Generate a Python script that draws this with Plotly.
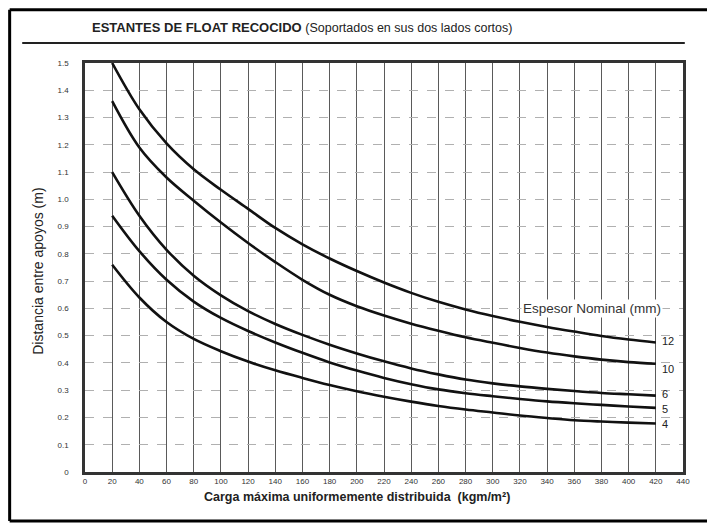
import plotly.graph_objects as go

# Carga (kg/m2) at which each curve is read
carga = [20, 40, 60, 80, 100, 120, 140, 160, 180, 200, 220,
         240, 260, 280, 300, 320, 340, 360, 380, 400, 420]

# Distancia entre apoyos (m) per espesor nominal (mm)
esp_12 = [1.50, 1.33, 1.205, 1.11, 1.035, 0.965, 0.895, 0.835, 0.783, 0.737, 0.695,
          0.657, 0.624, 0.596, 0.572, 0.551, 0.532, 0.515, 0.499, 0.486, 0.475]
esp_10 = [1.36, 1.19, 1.08, 0.995, 0.915, 0.84, 0.77, 0.705, 0.65, 0.608, 0.574,
          0.544, 0.518, 0.494, 0.474, 0.455, 0.438, 0.424, 0.412, 0.403, 0.397]
esp_6 = [1.10, 0.94, 0.815, 0.72, 0.648, 0.59, 0.543, 0.503, 0.467, 0.435, 0.406,
         0.38, 0.358, 0.339, 0.325, 0.314, 0.305, 0.297, 0.29, 0.285, 0.28]
esp_5 = [0.94, 0.81, 0.705, 0.625, 0.565, 0.517, 0.475, 0.437, 0.402, 0.372, 0.345,
         0.322, 0.303, 0.289, 0.278, 0.268, 0.259, 0.252, 0.246, 0.24, 0.235]
esp_4 = [0.76, 0.64, 0.55, 0.488, 0.443, 0.405, 0.373, 0.345, 0.319, 0.296, 0.276,
         0.258, 0.242, 0.229, 0.218, 0.207, 0.198, 0.19, 0.185, 0.181, 0.178]

series = [('12', esp_12, 1), ('10', esp_10, -5), ('6', esp_6, 2),
          ('5', esp_5, -1), ('4', esp_4, -1)]

x_ticks = list(range(0, 441, 20))
y_ticks = [i / 10 for i in range(0, 16)]
y_labels = ['0'] + [f'{v:.1f}' for v in y_ticks[1:]]

FONT = 'Liberation Sans, Arial'
NARROW = 'Liberation Sans Narrow, Liberation Sans, Arial'

fig = go.Figure()
for name, vals, _ in series:
    fig.add_trace(go.Scatter(
        x=carga, y=vals, mode='lines', name=name,
        line=dict(color='#111111', width=2.6, shape='spline', smoothing=1.0),
        hoverinfo='skip', showlegend=False,
    ))

# curve labels at the right end
for name, vals, ys in series:
    fig.add_annotation(x=carga[-1], y=vals[-1], text=name, showarrow=False,
                       xanchor='left', yanchor='middle', xshift=4, yshift=ys,
                       font=dict(size=11, color='#222', family=FONT))

fig.add_annotation(x=373, y=0.6, text='Espesor Nominal (mm)', showarrow=False,
                   yanchor='middle', bgcolor='white',
                   font=dict(size=13.5, color='#333', family=FONT))

# title, rule, outer frame and axis titles (paper coords relative to plot area)
fig.add_annotation(xref='paper', yref='paper', x=0.008, y=1.086,
                   xanchor='left', yanchor='middle',
                   text='<b>ESTANTES DE FLOAT RECOCIDO</b> '
                        '<span style="font-family:Liberation Sans;font-size:12.5px">'
                        '(Soportados en sus dos lados cortos)</span>',
                   showarrow=False, font=dict(size=13, color='#222', family=NARROW))
fig.add_shape(type='line', xref='paper', yref='paper', x0=-0.105, x1=1.003,
              y0=1.049, y1=1.049, line=dict(color='#222', width=2))

# outer frame drawn as four lines
fl, fr, fb, ft = -0.126, 1.050, -0.12, 1.13
for x0, y0, x1, y1 in [(fl, fb, fl, ft), (fl, ft, fr, ft), (fr, ft, fr, fb), (fr, fb, fl, fb)]:
    fig.add_shape(type='line', xref='paper', yref='paper', x0=x0, y0=y0, x1=x1, y1=y1,
                  line=dict(color='black', width=3))

fig.add_annotation(xref='paper', yref='paper', x=-0.08, y=0.49, textangle=-90,
                   xanchor='center', yanchor='middle',
                   text='Distancia entre apoyos (m)', showarrow=False,
                   font=dict(size=14, color='#222', family=FONT))
fig.add_annotation(xref='paper', yref='paper', x=0.455, y=-0.061,
                   xanchor='center', yanchor='middle',
                   text='<b>Carga máxima uniformemente distribuida  (kgm/m²)</b>',
                   showarrow=False, font=dict(size=12.5, color='#222', family=FONT))

fig.update_layout(
    width=707, height=515,
    plot_bgcolor='white', paper_bgcolor='white',
    margin=dict(l=77, r=32, t=55, b=51),
    font=dict(family=FONT, color='#333'),
    xaxis=dict(range=[0, 440], tickvals=x_ticks, tickfont=dict(size=8),
               showgrid=True, gridcolor='#5a5a5a', gridwidth=1.2,
               showline=True, linecolor='#333', linewidth=2.5, mirror=True,
               zeroline=False, ticks='', fixedrange=True),
    yaxis=dict(range=[0, 1.5], tickvals=y_ticks, ticktext=y_labels, tickfont=dict(size=8),
               showgrid=True, gridcolor='#b0b0b0', gridwidth=1, griddash='dash',
               showline=True, linecolor='#333', linewidth=2.5, mirror=True,
               zeroline=False, ticks='', ticklabelstandoff=12, fixedrange=True),
)

fig.write_html('out.html')
